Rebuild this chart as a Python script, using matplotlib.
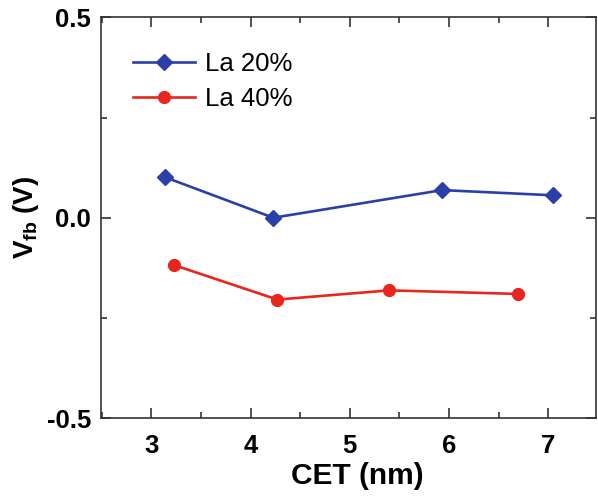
import matplotlib
matplotlib.use("Agg")
import matplotlib.pyplot as plt
from matplotlib.ticker import MultipleLocator

plt.rcParams['font.family'] = ['Liberation Sans', 'DejaVu Sans']
plt.rcParams['mathtext.fontset'] = 'custom'
plt.rcParams['mathtext.rm'] = 'Liberation Sans:bold'
plt.rcParams['mathtext.bf'] = 'Liberation Sans:bold'
plt.rcParams['axes.unicode_minus'] = False

# Flat-band voltage vs capacitance equivalent thickness
cet_la20 = [3.14, 4.23, 5.93, 7.05]
vfb_la20 = [0.101, 0.000, 0.069, 0.056]
cet_la40 = [3.23, 4.27, 5.40, 6.70]
vfb_la40 = [-0.118, -0.204, -0.181, -0.190]
labels = ["La 20%", "La 40%"]

fig = plt.figure(figsize=(5.98, 4.96), dpi=100)
ax = fig.add_axes([0.1684, 0.1567, 0.828, 0.8085])

ax.plot(cet_la20, vfb_la20, color='#2b3fa8', lw=1.9, marker='D', ms=8.5,
        label=labels[0])
ax.plot(cet_la40, vfb_la40, color='#e8261e', lw=1.9, marker='o', ms=8.5,
        label=labels[1])

ax.set_xlim(2.49, 7.48)
ax.set_ylim(-0.5, 0.5)
ax.xaxis.set_major_locator(MultipleLocator(1))
ax.xaxis.set_minor_locator(MultipleLocator(0.5))
ax.yaxis.set_major_locator(MultipleLocator(0.5))
ax.yaxis.set_minor_locator(MultipleLocator(0.25))
ax.tick_params(which='both', direction='in', top=True, right=True, width=1.2,
               color='#333333')
ax.tick_params(which='major', length=7, labelsize=18.5)
ax.tick_params(axis='x', which='major', pad=11)
ax.tick_params(axis='y', which='major', pad=7)
ax.tick_params(which='minor', length=4)
for lab in ax.get_xticklabels() + ax.get_yticklabels():
    lab.set_fontweight('bold')
for s in ax.spines.values():
    s.set_linewidth(1.2)
    s.set_color('#333333')

ax.set_xlabel("CET (nm)", fontsize=21.5, fontweight='bold', labelpad=0)
ax.xaxis.set_label_coords(0.518, -0.108)
ax.set_ylabel(r"V$_{\mathrm{fb}}$ (V)", fontsize=20, fontweight='bold', labelpad=4)

ax.legend(loc='upper left', frameon=False, fontsize=18.5, handlelength=2.4,
          handletextpad=0.4, labelspacing=0.45, borderaxespad=0.0,
          bbox_to_anchor=(0.045, 0.94))

fig.savefig("out.png", dpi=100)
